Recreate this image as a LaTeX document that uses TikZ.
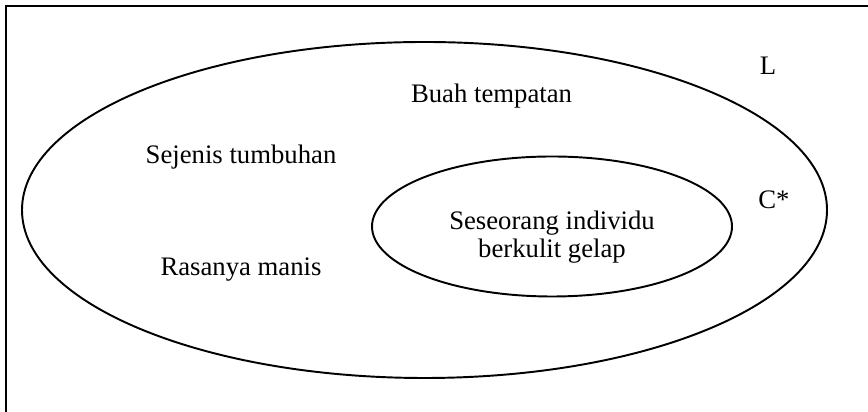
\documentclass[tikz,border=0pt]{standalone}
\usepackage{fontspec}
\setmainfont{Liberation Serif}
\usepackage{tikz}
\usetikzlibrary{positioning}
\tikzset{set/.style = {line width = 1.1pt}}
\tikzset{lbl/.style = {inner sep = 0, font = \fontsize{15.2}{16.2}\selectfont}}

\begin{document}
\begin{tikzpicture}
           \useasboundingbox (0, 0) rectangle (17.36, 8.24);

           \draw [set] (0.12, 0) -- (0.12, 8.12) -- (17.36, 8.12);

           \draw [set] (8.49, 4.04) ellipse [x radius = 8.05, y radius = 3.36];
           \draw [set] (11.04, 3.71) ellipse [x radius = 3.6, y radius = 1.4];

           \node [lbl] (buah) at (9.83, 6.32) {Buah tempatan};
           \node [lbl] (jenis) at (4.82, 5.10) {Sejenis tumbuhan};
           \node [lbl] (rasa) at (4.82, 2.84) {Rasanya manis};
           \node [lbl, align = center] (individu) at (11.04, 3.5) {Seseorang individu\\berkulit gelap};

           \node [lbl] (L) at (15.36, 6.92) {L};
           \node [lbl] (C) at (15.48, 4.24) {C*};
         \end{tikzpicture}
\end{document}
